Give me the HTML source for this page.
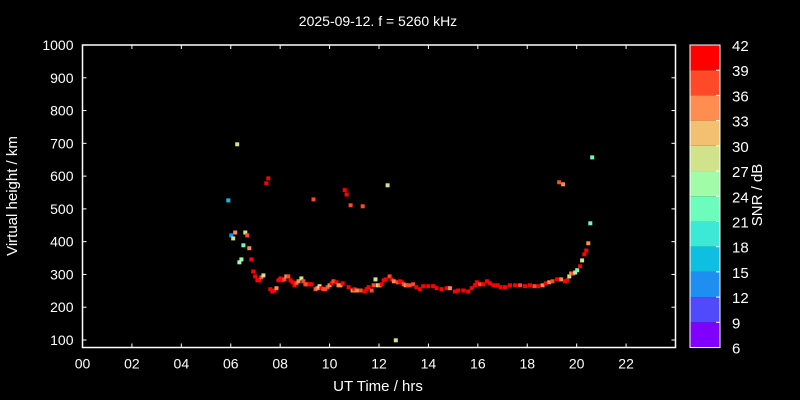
<!DOCTYPE html>
<html><head><meta charset="utf-8"><style>
html,body{margin:0;padding:0;background:#000;}
svg{display:block;font-family:"Liberation Sans",sans-serif;}
</style></head><body>
<svg id="chart" width="800" height="400" viewBox="0 0 800 400">
<rect x="0" y="0" width="800" height="400" fill="#000"/>
<text x="378" y="26" fill="#fff" font-size="14" text-anchor="middle">2025-09-12. f = 5260 kHz</text>
<g id="points"></g>
<g id="axes"></g>
<g id="cbar"></g>
<text x="378" y="391" fill="#fff" font-size="15" text-anchor="middle">UT Time / hrs</text>
<text transform="translate(17,196) rotate(-90)" fill="#fff" font-size="15" text-anchor="middle">Virtual height / km</text>
<text transform="translate(762,195) rotate(-90)" fill="#fff" font-size="15" text-anchor="middle">SNR / dB</text>
</svg>
<script>
const times=[6.26,7.52,7.44,5.90,10.61,10.69,9.35,10.85,11.34,12.35,12.68,6.18,6.02,6.10,6.59,6.67,6.51,6.75,6.43,6.35,6.83,6.91,6.99,7.08,7.16,7.24,7.32,7.60,7.68,7.77,7.85,7.93,8.01,8.09,8.17,8.25,8.33,8.42,8.50,8.58,8.66,8.74,8.86,8.94,9.02,9.10,9.19,9.27,9.43,9.51,9.59,9.67,9.75,9.83,9.92,10.00,10.08,10.16,10.28,10.36,10.44,10.53,10.77,10.93,11.01,11.09,11.18,11.26,11.42,11.50,11.58,11.70,11.78,11.86,11.95,12.03,12.11,12.19,12.27,12.43,12.51,12.60,12.76,12.84,12.92,13.00,13.08,13.16,13.24,
13.38,13.51,13.65,13.79,13.99,14.19,14.33,14.53,14.73,14.87,15.07,15.21,15.41,15.61,15.75,15.88,15.96,16.09,16.22,16.37,16.49,16.63,16.80,16.92,17.10,17.30,17.51,17.71,17.91,18.11,18.29,18.45,18.62,18.75,18.89,19.02,19.21,19.37,19.53,19.62,19.70,19.78,19.86,19.94,20.02,20.14,20.22,20.31,20.39,20.47,20.55,20.63,19.29,19.45];
const heights=[697,593,578,526,557,544,529,511,508,572,99,428,419,410,428,419,389,380,346,337,346,309,294,282,282,291,297,255,248,251,258,282,288,282,285,294,294,282,276,267,273,279,288,279,270,270,270,270,255,258,264,258,255,255,261,267,273,279,276,267,267,273,261,251,255,251,251,251,248,255,261,251,267,285,267,267,270,282,285,294,285,279,276,279,276,270,267,267,267,
270,261,255,264,264,264,258,255,258,258,248,251,251,248,258,267,276,270,270,279,273,267,267,261,261,267,267,267,264,267,264,264,267,273,276,279,285,285,279,282,294,303,303,306,313,325,343,361,373,395,456,657,581,575];
const snrs=[27,42,39,15,42,42,36,36,36,27,27,33,12,27,27,36,21,33,24,24,39,42,42,42,42,36,27,42,42,39,33,42,42,42,36,33,36,42,42,42,36,33,27,36,36,36,42,42,36,33,27,42,36,36,36,33,42,36,42,33,33,42,39,33,39,33,33,36,42,42,39,36,36,27,27,33,39,42,42,36,42,33,36,42,42,36,33,36,36,
36,42,39,42,39,42,39,39,42,33,42,42,42,42,39,39,42,36,39,42,39,42,39,42,42,39,42,36,42,39,36,39,33,39,33,36,39,33,42,42,27,33,36,24,21,39,27,42,42,33,21,21,36,33];
const cbTicks=[6,9,12,15,18,21,24,27,30,33,36,39,42];
const cbColors=["#7f00ff","#4f4afb","#1f8ef1","#0ebfe2","#3ce8d6","#6cfcbc","#a0fca8","#d0e28a","#f2c070","#ff8c50","#ff4a2a","#ff0000"];
const xTicks=[0,2,4,6,8,10,12,14,16,18,20,22];
const xTickLabels=["00","02","04","06","08","10","12","14","16","18","20","22"];
const yTicks=[100,200,300,400,500,600,700,800,900,1000];

const NS="http://www.w3.org/2000/svg";
const X0=82.5,X1=675.5,Y0=347.5,Y1=45;
const xs=t=>X0+(t/24)*(X1-X0);
const ys=h=>340-(h-100)*(295/900);
const cbY=v=>Y0-(v-6)/(42-6)*(Y0-Y1);
function mk(tag,attrs,parent){const e=document.createElementNS(NS,tag);for(const k in attrs)e.setAttribute(k,attrs[k]);parent.appendChild(e);return e;}
function colorFor(s){let i=Math.floor((s-6)/3);if(i>11)i=11;if(i<0)i=0;return cbColors[i];}

const pg=document.getElementById('points');
for(let i=0;i<times.length;i++){
  const r=mk('rect',{x:(xs(times[i])-2).toFixed(1),y:(ys(heights[i])-2).toFixed(1),width:4,height:4,fill:colorFor(snrs[i])},pg);
  
  
}

const ax=document.getElementById('axes');
const frame=mk('rect',{x:X0,y:Y1,width:X1-X0,height:Y0-Y1,fill:'none',stroke:'#fff','stroke-width':1.5},ax);


xTicks.forEach((t,i)=>{
  const x=xs(t);
  mk('line',{x1:x,y1:Y0,x2:x,y2:Y0-4,stroke:'#fff','stroke-width':1},ax);
  mk('line',{x1:x,y1:Y1,x2:x,y2:Y1+4,stroke:'#fff','stroke-width':1},ax);
  const tx=mk('text',{x:x,y:Y0+21,fill:'#fff','font-size':14,'text-anchor':'middle'},ax);
  tx.textContent=xTickLabels[i];
  
  
});
yTicks.forEach(v=>{
  const y=ys(v);
  mk('line',{x1:X0,y1:y,x2:X0+4,y2:y,stroke:'#fff','stroke-width':1},ax);
  mk('line',{x1:X1,y1:y,x2:X1-4,y2:y,stroke:'#fff','stroke-width':1},ax);
  const tx=mk('text',{x:X0-9,y:y+5,fill:'#fff','font-size':14,'text-anchor':'end'},ax);
  tx.textContent=String(v);
  
  
});

const cb=document.getElementById('cbar');
for(let i=0;i<cbColors.length;i++){
  const r=mk('rect',{x:690,y:cbY(cbTicks[i+1]),width:30,height:cbY(cbTicks[i])-cbY(cbTicks[i+1]),fill:cbColors[i]},cb);
  
  
}
mk('rect',{x:690,y:Y1,width:30,height:Y0-Y1,fill:'none',stroke:'#fff','stroke-width':1},cb);
cbTicks.forEach(v=>{
  const y=cbY(v);
  mk('line',{x1:716,y1:y,x2:720,y2:y,stroke:'#fff','stroke-width':1},cb);
  const tx=mk('text',{x:732,y:y+6,fill:'#fff','font-size':15},cb);
  tx.textContent=String(v);
  
  
});
</script>
</body></html>
